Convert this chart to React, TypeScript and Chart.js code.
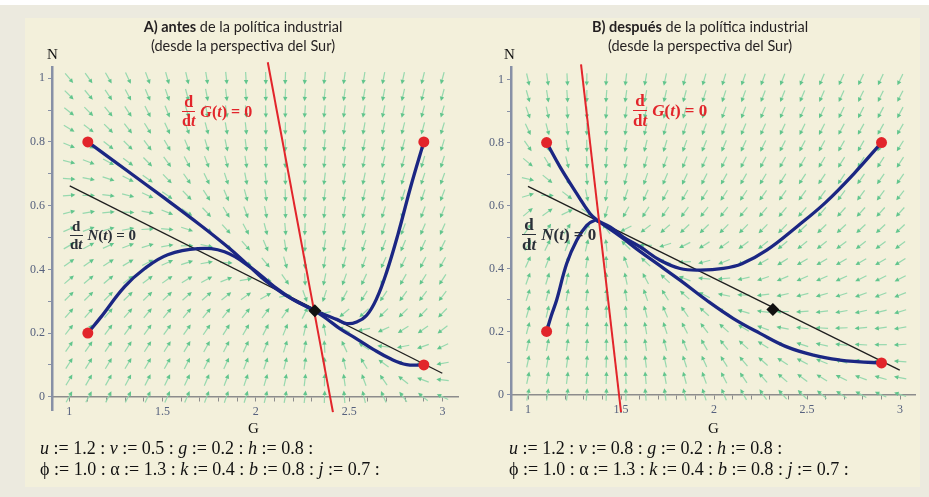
import React, { useEffect, useRef } from 'react';
import { Chart, registerables } from 'chart.js';
Chart.register(...registerables);

// ---------- arrow grid (20 x 20, as in the Maple direction field) ----------
const gridG = [1.000, 1.105, 1.211, 1.316, 1.421, 1.526, 1.632, 1.737, 1.842, 1.947, 2.053, 2.158, 2.263, 2.368, 2.474, 2.579, 2.684, 2.789, 2.895, 3.000];
const gridN = [0.000, 0.053, 0.105, 0.158, 0.211, 0.263, 0.316, 0.368, 0.421, 0.474, 0.526, 0.579, 0.632, 0.684, 0.737, 0.789, 0.842, 0.895, 0.947, 1.000];

// arrow directions (screen degrees, 0 = right, 90 = up), rows from N=0 upwards
const arrowAnglesA = [
  [61, 62, 63, 63, 65, 66, 67, 69, 71, 73, 76, 79, 83, 88, 95, 104, 114, 127, 141, 155],
  [59, 60, 61, 62, 63, 64, 65, 67, 69, 71, 74, 78, 83, 89, 98, 110, 125, 142, 159, 173],
  [57, 58, 59, 59, 60, 61, 63, 64, 66, 69, 72, 76, 82, 90, 103, 121, 144, 165, 180, -170],
  [55, 55, 56, 57, 57, 58, 59, 61, 63, 65, 68, 73, 80, 93, 115, 147, 174, -169, -160, -154],
  [52, 53, 53, 53, 54, 54, 55, 56, 58, 60, 63, 68, 77, 101, 155, -169, -155, -148, -145, -142],
  [49, 49, 49, 49, 50, 50, 50, 50, 51, 51, 53, 55, 64, -167, -141, -137, -135, -135, -134, -134],
  [45, 45, 45, 44, 44, 43, 42, 41, 39, 36, 30, 9, -70, -108, -118, -122, -124, -126, -127, -127],
  [41, 40, 40, 38, 37, 35, 32, 28, 22, 10, -15, -55, -87, -102, -110, -115, -118, -120, -122, -123],
  [36, 35, 33, 31, 28, 24, 18, 10, -3, -24, -51, -74, -90, -100, -106, -110, -114, -116, -118, -119],
  [30, 28, 25, 21, 17, 10, 1, -12, -29, -49, -67, -81, -91, -99, -104, -108, -111, -113, -115, -116],
  [23, 20, 16, 10, 3, -6, -18, -32, -48, -62, -75, -85, -92, -98, -102, -106, -108, -111, -113, -114],
  [15, 10, 5, -2, -11, -22, -34, -47, -59, -70, -79, -87, -93, -97, -101, -104, -107, -109, -111, -112],
  [5, 0, -7, -15, -25, -35, -46, -57, -67, -75, -82, -88, -93, -97, -100, -103, -105, -108, -109, -111],
  [-4, -11, -18, -27, -36, -46, -55, -64, -72, -79, -84, -89, -93, -97, -100, -102, -104, -106, -108, -110],
  [-14, -21, -29, -37, -46, -54, -62, -69, -75, -81, -86, -90, -93, -96, -99, -101, -104, -105, -107, -108],
  [-23, -30, -38, -45, -53, -60, -67, -73, -78, -83, -87, -90, -94, -96, -99, -101, -103, -105, -106, -107],
  [-31, -38, -45, -52, -58, -65, -70, -75, -80, -84, -88, -91, -94, -96, -98, -100, -102, -104, -105, -107],
  [-39, -45, -51, -57, -63, -68, -73, -78, -82, -85, -88, -91, -94, -96, -98, -100, -102, -103, -105, -106],
  [-45, -50, -56, -62, -67, -71, -75, -79, -83, -86, -89, -92, -94, -96, -98, -100, -101, -103, -104, -105],
  [-50, -55, -60, -65, -69, -74, -77, -81, -84, -87, -89, -92, -94, -96, -98, -99, -101, -102, -104, -105],
];

const arrowAnglesB = [
  [79, 81, 83, 85, 88, 91, 95, 98, 103, 108, 113, 119, 125, 132, 136, 140, 146, 151, 156, 161],
  [78, 80, 83, 85, 88, 92, 95, 100, 105, 110, 117, 124, 131, 139, 143, 148, 154, 160, 164, 169],
  [78, 80, 82, 85, 88, 92, 97, 102, 108, 114, 122, 130, 138, 147, 152, 157, 163, 168, 172, 176],
  [77, 79, 82, 85, 89, 93, 98, 104, 112, 120, 129, 138, 148, 157, 162, 167, 173, 177, -180, -176],
  [75, 78, 81, 85, 89, 94, 100, 108, 117, 127, 138, 149, 160, 169, 173, 177, -178, -175, -172, -170],
  [74, 77, 80, 84, 89, 95, 104, 113, 125, 138, 151, 163, 173, -179, -176, -173, -170, -167, -166, -163],
  [72, 75, 79, 83, 90, 98, 109, 122, 138, 154, 168, 178, -173, -167, -166, -164, -162, -160, -159, -158],
  [70, 73, 77, 83, 90, 102, 118, 137, 158, 174, -175, -167, -161, -157, -156, -156, -155, -154, -154, -153],
  [66, 69, 74, 81, 92, 110, 137, 164, -177, -165, -158, -153, -150, -148, -149, -149, -149, -149, -149, -148],
  [61, 64, 69, 77, 96, 136, 178, -162, -153, -148, -145, -143, -141, -140, -141, -142, -143, -142, -143, -143],
  [53, 55, 58, 67, 127, -153, -143, -139, -137, -136, -135, -135, -135, -134, -136, -136, -137, -137, -137, -137],
  [40, 36, 26, -32, -106, -119, -123, -125, -127, -128, -128, -129, -129, -129, -131, -131, -132, -132, -132, -132],
  [17, -1, -38, -78, -99, -109, -114, -118, -120, -122, -123, -124, -125, -125, -126, -126, -127, -127, -127, -128],
  [-13, -39, -66, -85, -97, -104, -109, -113, -115, -117, -119, -120, -121, -122, -123, -124, -124, -125, -125, -125],
  [-40, -59, -76, -87, -96, -102, -106, -110, -112, -114, -116, -117, -118, -119, -120, -121, -122, -122, -123, -123],
  [-55, -69, -80, -89, -95, -100, -104, -107, -110, -112, -113, -115, -116, -117, -118, -119, -120, -120, -121, -122],
  [-65, -75, -83, -90, -95, -99, -103, -105, -108, -110, -111, -113, -114, -115, -116, -117, -118, -119, -119, -120],
  [-71, -78, -85, -90, -95, -98, -101, -104, -106, -108, -110, -111, -113, -114, -115, -116, -116, -117, -118, -118],
  [-74, -81, -86, -91, -94, -98, -100, -103, -105, -107, -108, -110, -111, -112, -113, -114, -115, -116, -116, -117],
  [-77, -82, -87, -91, -94, -97, -100, -102, -104, -106, -107, -109, -110, -111, -112, -113, -114, -115, -115, -116],
];

// ---------- ticks ----------
const xTickValues = [1.0, 1.1, 1.2, 1.3, 1.4, 1.5, 1.6, 1.7, 1.8, 1.9, 2.0, 2.1, 2.2, 2.3, 2.4, 2.5, 2.6, 2.7, 2.8, 2.9, 3.0];
const xLabelValues = [1, 1.5, 2, 2.5, 3];
const xTickLabels = ['1', '1.5', '2', '2.5', '3'];
const yTickValues = [0, 0.1, 0.2, 0.3, 0.4, 0.5, 0.6, 0.7, 0.8, 0.9, 1.0];
const yLabelValues = [0, 0.2, 0.4, 0.6, 0.8, 1];
const yTickLabels = ['0', '0.2', '0.4', '0.6', '0.8', '1'];

// ---------- panel A data ----------
const gNullclineA = [[2.064, 1.05], [2.413, -0.048]];
const nNullclineA = [[1.003, 0.662], [2.999, 0.074]];
const startPointsA = [[1.1, 0.8], [1.1, 0.2], [2.9, 0.8], [2.9, 0.1]];
const equilibriumA = [[2.316, 0.27]];
const trajA1 = [[1.1, 0.8], [1.3, 0.714], [1.5, 0.628], [1.7, 0.54], [1.85, 0.47], [1.95, 0.418], [2.05, 0.365], [2.15, 0.322], [2.25, 0.29], [2.316, 0.27]];
const trajA2 = [[1.1, 0.2], [1.17, 0.25], [1.296, 0.345], [1.403, 0.402], [1.528, 0.446], [1.689, 0.465], [1.832, 0.455], [1.975, 0.405], [2.1, 0.345], [2.2, 0.305], [2.316, 0.27]];
const trajA3 = [[2.9, 0.8], [2.83, 0.66], [2.761, 0.509], [2.701, 0.392], [2.647, 0.308], [2.594, 0.256], [2.54, 0.235], [2.486, 0.23], [2.433, 0.243], [2.38, 0.255], [2.316, 0.27]];
const trajA4 = [[2.9, 0.1], [2.808, 0.101], [2.719, 0.12], [2.629, 0.149], [2.54, 0.182], [2.45, 0.214], [2.379, 0.245], [2.316, 0.27]];

// ---------- panel B data ----------
const gNullclineB = [[1.285, 1.048], [1.5, -0.056]];
const nNullclineB = [[1.0, 0.661], [2.998, 0.077]];
const startPointsB = [[1.1, 0.8], [1.1, 0.2], [2.9, 0.8], [2.9, 0.1]];
const oldEquilibriumB = [[2.316, 0.27]];
const trajB1 = [[1.1, 0.8], [1.172, 0.723], [1.262, 0.638], [1.333, 0.575], [1.378, 0.55]];
const trajB2 = [[1.1, 0.2], [1.125, 0.25], [1.154, 0.3], [1.208, 0.416], [1.262, 0.49], [1.316, 0.537], [1.36, 0.553], [1.378, 0.55]];
const trajB3 = [[2.9, 0.8], [2.75, 0.7], [2.6, 0.61], [2.45, 0.535], [2.283, 0.458], [2.15, 0.415], [2.05, 0.4], [1.925, 0.395], [1.817, 0.4], [1.71, 0.426], [1.602, 0.469], [1.512, 0.5], [1.441, 0.532], [1.378, 0.55]];
const trajB4 = [[2.9, 0.1], [2.767, 0.104], [2.677, 0.109], [2.534, 0.125], [2.391, 0.151], [2.247, 0.194], [2.104, 0.241], [1.96, 0.299], [1.817, 0.363], [1.692, 0.416], [1.6, 0.455], [1.5, 0.5], [1.378, 0.55]];

const COLORS = {
  navy: '#1b2683',
  red: '#e2252b',
  black: '#1e1e1e',
  axisY: '#8790a6',
  axisX: '#8c8c8c',
  tick: '#56617e',
  arrowShaft: 'rgba(145, 215, 172, 0.95)',
  arrowHead: '#62c58d',
};

type Pt = number[];
interface PanelSpec {
  canvasLeft: number; canvasWidth: number;
  xMin: number; xMax: number; yMin: number; yMax: number;
  padL: number; padT: number; padR: number; padB: number;
  angles: number[][];
  gNull: Pt[]; nNull: Pt[]; starts: Pt[]; diamond: Pt[]; trajs: Pt[][];
}

const panelA: PanelSpec = {
  canvasLeft: 0, canvasWidth: 465,
  xMin: 0.908, xMax: 3.083, yMin: -0.0414, yMax: 1.035,
  padL: 22, padT: 67, padR: 7, padB: 87,
  angles: arrowAnglesA,
  gNull: gNullclineA, nNull: nNullclineA, starts: startPointsA, diamond: equilibriumA,
  trajs: [trajA1, trajA2, trajA3, trajA4],
};
const panelB: PanelSpec = {
  canvasLeft: 465, canvasWidth: 464,
  xMin: 0.9086, xMax: 3.08, yMin: -0.0495, yMax: 1.04,
  padL: 16, padT: 67, padR: 14, padB: 87,
  angles: arrowAnglesB,
  gNull: gNullclineB, nNull: nNullclineB, starts: startPointsB, diamond: oldEquilibriumB,
  trajs: [trajB1, trajB2, trajB3, trajB4],
};

function makeFieldPlugin(angles: number[][]) {
  return {
    id: 'directionField',
    beforeDatasetsDraw(chart: any) {
      const { ctx } = chart;
      const xs = chart.scales.x, ys = chart.scales.y;
      const L = 12.5, headLen = 4.4, headHalf = 2.2;
      ctx.save();
      for (let j = 0; j < gridN.length; j++) {
        for (let i = 0; i < gridG.length; i++) {
          const px = xs.getPixelForValue(gridG[i]);
          const py = ys.getPixelForValue(gridN[j]);
          const a = (angles[j][i] * Math.PI) / 180;
          const dx = Math.cos(a), dy = -Math.sin(a);
          const x0 = px - (dx * L) / 2, y0 = py - (dy * L) / 2;
          const x1 = px + (dx * L) / 2, y1 = py + (dy * L) / 2;
          ctx.strokeStyle = COLORS.arrowShaft;
          ctx.lineWidth = 1.2;
          ctx.beginPath();
          ctx.moveTo(x0, y0);
          ctx.lineTo(x1 - dx * 2, y1 - dy * 2);
          ctx.stroke();
          const hx = x1 - dx * headLen, hy = y1 - dy * headLen;
          const nx = -dy, ny = dx;
          ctx.fillStyle = COLORS.arrowHead;
          ctx.beginPath();
          ctx.moveTo(x1, y1);
          ctx.lineTo(hx + nx * headHalf, hy + ny * headHalf);
          ctx.lineTo(hx - nx * headHalf, hy - ny * headHalf);
          ctx.closePath();
          ctx.fill();
        }
      }
      ctx.restore();
    },
  };
}

function labelFor(values: number[], labels: string[], v: number) {
  const k = values.findIndex((l) => Math.abs(l - v) < 1e-6);
  return k >= 0 ? labels[k] : '';
}

function buildConfig(p: PanelSpec): any {
  const pts = (arr: Pt[]) => arr.map(([x, y]) => ({ x, y }));
  const tickFont = { family: '"Liberation Serif", "DejaVu Serif", serif', size: 12 };
  return {
    type: 'scatter',
    data: {
      datasets: [
        { data: pts(p.starts), showLine: false, pointRadius: 5.5, pointBackgroundColor: COLORS.red, pointBorderWidth: 0, order: 1 },
        { data: pts(p.diamond), showLine: false, pointStyle: 'rectRot', pointRadius: 6.5, pointBackgroundColor: '#111', pointBorderWidth: 0, order: 0 },
        ...p.trajs.map((t) => ({ data: pts(t), showLine: true, borderColor: COLORS.navy, borderWidth: 3.3, pointRadius: 0, tension: 0.4, order: 4, borderCapStyle: 'round' })),
        { data: pts(p.gNull), showLine: true, borderColor: COLORS.red, borderWidth: 2, pointRadius: 0, order: 3, clip: false },
        { data: pts(p.nNull), showLine: true, borderColor: COLORS.black, borderWidth: 1.3, pointRadius: 0, order: 5, clip: false },
      ],
    },
    options: {
      responsive: false,
      maintainAspectRatio: false,
      animation: false,
      events: [],
      layout: { padding: { left: p.padL, top: p.padT, right: p.padR, bottom: p.padB } },
      plugins: { legend: { display: false }, tooltip: { enabled: false }, title: { display: false } },
      scales: {
        x: {
          type: 'linear',
          min: p.xMin,
          max: p.xMax,
          position: { y: 0 },
          afterFit: (s: any) => { s.height = 0; },
          afterBuildTicks: (s: any) => { s.ticks = xTickValues.map((v) => ({ value: v })); },
          ticks: {
            autoSkip: false, maxRotation: 0, padding: 4, color: COLORS.tick, font: tickFont,
            callback: (v: number) => labelFor(xLabelValues, xTickLabels, v),
          },
          grid: { drawOnChartArea: false, drawTicks: true, tickLength: 4, color: '#8c8c8c', lineWidth: 1 },
          border: { display: true, color: COLORS.axisX, width: 1.5 },
        },
        y: {
          type: 'linear',
          min: p.yMin,
          max: p.yMax,
          position: 'left',
          afterFit: (s: any) => { s.width = 30; },
          afterBuildTicks: (s: any) => { s.ticks = yTickValues.map((v) => ({ value: v })); },
          ticks: {
            autoSkip: false, padding: 3, color: COLORS.tick, font: tickFont,
            callback: (v: number) => labelFor(yLabelValues, yTickLabels, v),
          },
          grid: { drawOnChartArea: false, drawTicks: true, tickLength: 4, color: '#8790a6', lineWidth: 1 },
          border: { display: true, color: COLORS.axisY, width: 2.5 },
        },
      },
    },
    plugins: [makeFieldPlugin(p.angles)],
  };
}

function PhasePanel({ spec }: { spec: PanelSpec }) {
  const ref = useRef<HTMLCanvasElement | null>(null);
  useEffect(() => {
    if (!ref.current) return;
    const chart = new Chart(ref.current, buildConfig(spec));
    return () => chart.destroy();
  }, [spec]);
  return (
    <canvas
      ref={ref}
      width={spec.canvasWidth}
      height={497}
      style={{ position: 'absolute', left: spec.canvasLeft, top: 0, width: spec.canvasWidth, height: 497 }}
    />
  );
}

const serif = '"Liberation Serif", "Times New Roman", serif';

function DdtLabel({ left, top, color, size, fn }: { left: number; top: number; color: string; size: number; fn: string }) {
  return (
    <div style={{ position: 'absolute', left, top, color, fontFamily: serif, fontWeight: 'bold', fontSize: size, display: 'flex', alignItems: 'center', whiteSpace: 'nowrap', lineHeight: 1 }}>
      <div style={{ display: 'flex', flexDirection: 'column', alignItems: 'center', marginRight: 5 }}>
        <span style={{ paddingBottom: 1 }}>d</span>
        <span style={{ borderTop: `1.5px solid ${color}`, paddingTop: 1 }}>d<i>t</i></span>
      </div>
      <span><i>{fn}</i>(<i>t</i>) = 0</span>
    </div>
  );
}

function Title({ cx, bold, rest }: { cx: number; bold: string; rest: string }) {
  return (
    <div style={{ position: 'absolute', left: cx - 160, top: 17, width: 320, textAlign: 'center', fontFamily: 'Lato, "Open Sans", sans-serif', fontSize: 14.5, lineHeight: '19px', color: '#231f20' }}>
      <b>{bold}</b>{rest}<br />(desde la perspectiva del Sur)
    </div>
  );
}

function Params({ left, v }: { left: number; v: string }) {
  const st: React.CSSProperties = { position: 'absolute', left, fontFamily: serif, fontSize: 18, lineHeight: '21px', whiteSpace: 'nowrap', color: '#111' };
  return (
    <>
      <div style={{ ...st, top: 438 }}>
        <i>u</i> := 1.2 : <i>v</i> := {v} : <i>g</i> := 0.2 : <i>h</i> := 0.8 :
      </div>
      <div style={{ ...st, top: 459 }}>
        ϕ := 1.0 : α := 1.3 : <i>k</i> := 0.4 : <i>b</i> := 0.8 : <i>j</i> := 0.7 :
      </div>
    </>
  );
}

const axisLetter: React.CSSProperties = { position: 'absolute', fontFamily: serif, fontSize: 15, lineHeight: '15px', color: '#111' };

export default function App() {
  return (
    <div style={{ position: 'absolute', left: 0, top: 0, width: 929, height: 497, background: '#ecEadf', overflow: 'hidden' }}>
      <div style={{ position: 'absolute', left: 0, top: 0, width: 929, height: 5, background: '#ffffff' }} />
      <div style={{ position: 'absolute', left: 25, top: 18, width: 895, height: 469, background: '#f3f0db' }} />
      <PhasePanel spec={panelA} />
      <PhasePanel spec={panelB} />

      <Title cx={243} bold="A) antes" rest=" de la política industrial" />
      <Title cx={700} bold="B) después" rest=" de la política industrial" />

      <div style={{ ...axisLetter, left: 47, top: 47 }}>N</div>
      <div style={{ ...axisLetter, left: 504, top: 47 }}>N</div>
      <div style={{ ...axisLetter, left: 248, top: 421 }}>G</div>
      <div style={{ ...axisLetter, left: 708, top: 421 }}>G</div>

      <DdtLabel left={182} top={94} color={COLORS.red} size={16} fn="G" />
      <DdtLabel left={70} top={219} color="#2a2f38" size={15} fn="N" />
      <DdtLabel left={633} top={92} color={COLORS.red} size={17} fn="G" />
      <DdtLabel left={522} top={216} color="#2a2f38" size={17} fn="N" />

      <Params left={40} v="0.5" />
      <Params left={509} v="0.8" />
    </div>
  );
}
